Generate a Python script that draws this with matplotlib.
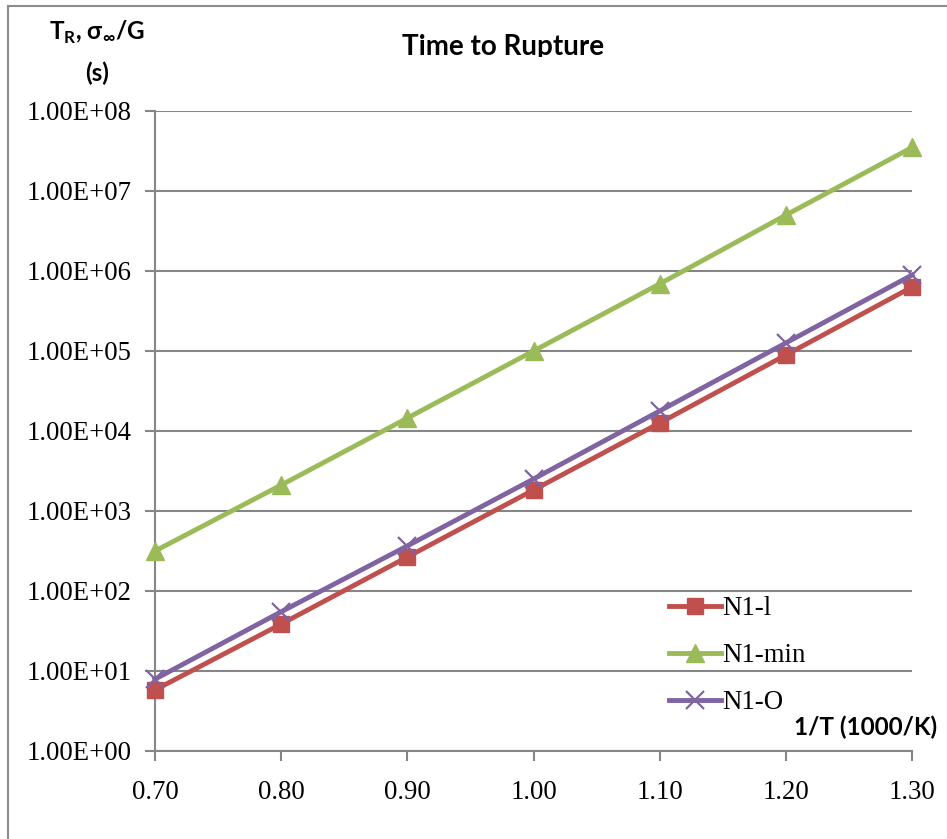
import math
import matplotlib
matplotlib.use("Agg")
import matplotlib.pyplot as plt
from matplotlib.ticker import FixedLocator, FuncFormatter, NullLocator
from matplotlib.lines import Line2D
from matplotlib.patches import Rectangle

x = [0.70, 0.80, 0.90, 1.00, 1.10, 1.20, 1.30]
n1_l = [5.8, 38.6, 266, 1830, 12600, 89000, 6.3e5]
n1_min = [316, 2110, 14500, 1.0e5, 6.9e5, 5.0e6, 3.5e7]
n1_o = [7.9, 55, 366, 2510, 17800, 1.26e5, 8.9e5]
xticks = [0.70, 0.80, 0.90, 1.00, 1.10, 1.20, 1.30]
yticks = [1e0, 1e1, 1e2, 1e3, 1e4, 1e5, 1e6, 1e7, 1e8]

W, H = 947, 839
fig = plt.figure(figsize=(W / 100, H / 100), dpi=100)
ax = fig.add_axes([155 / W, 1 - 751 / H, (912 - 155) / W, (751 - 111) / H])

RED, GREEN, PURPLE = "#C0504D", "#9BBB59", "#8064A2"
GRID = "#868686"
serif = "Liberation Serif"
sansb = ["Lato", "DejaVu Sans"]
FS = 19.3

ax.plot(x, n1_l, color=RED, lw=3.5, marker="s", ms=12, mec=RED, mfc=RED, label="N1-l", clip_on=False, zorder=3)
ax.plot(x, n1_min, color=GREEN, lw=3.5, marker="^", ms=13, mec=GREEN, mfc=GREEN, label="N1-min", clip_on=False, zorder=3)
ax.plot(x, n1_o, color=PURPLE, lw=3.5, marker="x", ms=13, mew=1.6, mec=PURPLE, label="N1-O", clip_on=False, zorder=4)

ax.set_yscale("log")
ax.set_ylim(1e0, 1e8)
ax.set_xlim(0.70, 1.30)
ax.yaxis.set_major_locator(FixedLocator(yticks))
ax.yaxis.set_minor_locator(NullLocator())
ax.yaxis.set_major_formatter(FuncFormatter(lambda v, p: "1.00E+%02d" % round(math.log10(v))))
ax.xaxis.set_major_locator(FixedLocator(xticks))
ax.xaxis.set_major_formatter(FuncFormatter(lambda v, p: "%.2f" % v))

for s in ["top", "right"]:
    ax.spines[s].set_visible(False)
for s in ["left", "bottom"]:
    ax.spines[s].set_color(GRID)
    ax.spines[s].set_linewidth(1.5)
ax.grid(axis="y", color=GRID, lw=1.5)
ax.set_axisbelow(True)
ax.tick_params(axis="both", direction="out", length=7, width=1.5, color=GRID, labelsize=FS)
ax.tick_params(axis="y", pad=10)
ax.tick_params(axis="x", pad=14)
for lab in ax.get_xticklabels() + ax.get_yticklabels():
    lab.set_fontfamily(serif)

leg = ax.legend(loc="upper left", bbox_to_anchor=(669 / W, 1 - 596 / H), bbox_transform=fig.transFigure,
                frameon=False, prop={"family": serif, "size": FS}, handlelength=1.95,
                handletextpad=0.05, labelspacing=0.82, borderpad=0, borderaxespad=0)

fig.text(503 / W, 1 - 55 / H, "Time to Rupture", ha="center", va="baseline",
         fontsize=20, fontweight="bold", family=sansb, zorder=5)
# the title's descenders are cut off in the original
fig.add_artist(Rectangle((380 / W, 1 - 72 / H), 260 / W, 14.5 / H, transform=fig.transFigure,
                         facecolor="white", edgecolor="none", zorder=6))

fig.text(97 / W, 1 - 32 / H, r"T$_\mathregular{R}$, σ$_\mathregular{∞}$/G", ha="center", va="center",
         fontsize=17.5, fontweight="bold", family=sansb)
fig.text(97 / W, 1 - 73 / H, "(s)", ha="center", va="center",
         fontsize=17.5, fontweight="bold", family=sansb)
fig.text(937 / W, 1 - 727 / H, "1/T (1000/K)", ha="right", va="center",
         fontsize=17.5, fontweight="bold", family=sansb)

# figure border (left and top)
fig.add_artist(Line2D([8 / W, 8 / W], [0, 1 - 6 / H], transform=fig.transFigure, color="#8C8C8C", lw=1.5))
fig.add_artist(Line2D([8 / W, 1], [1 - 6 / H, 1 - 6 / H], transform=fig.transFigure, color="#8C8C8C", lw=1.5))

fig.savefig("out.png", dpi=100, facecolor="white")
